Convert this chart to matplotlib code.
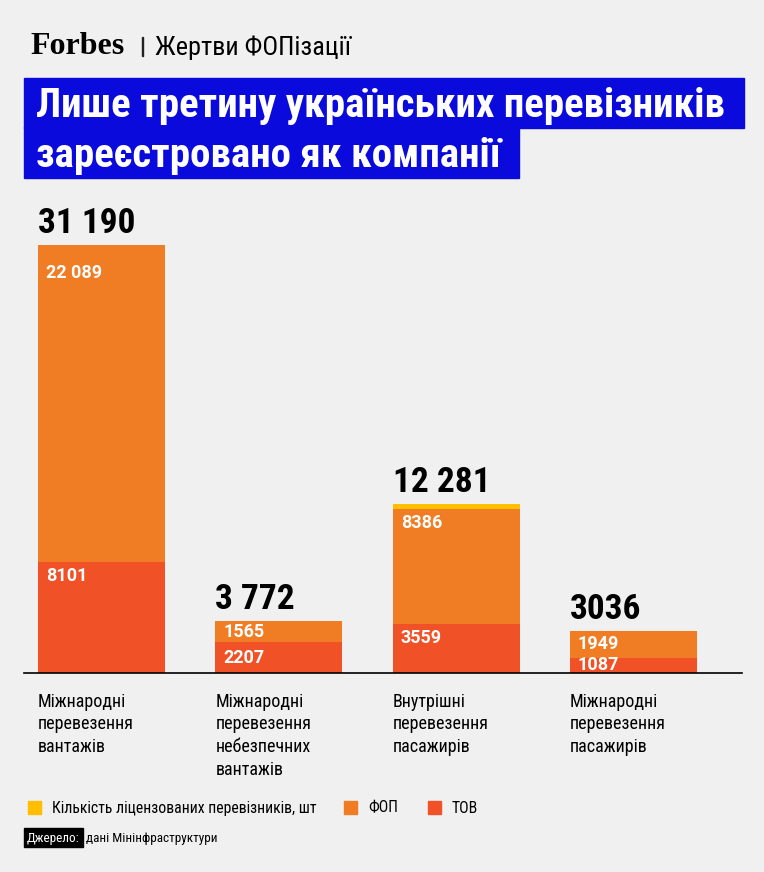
import numpy as np
import matplotlib
matplotlib.use('Agg')
import matplotlib.pyplot as plt
from matplotlib import font_manager
from matplotlib.patches import Rectangle

W, H = 764, 872

categories = [
    'Міжнародні\nперевезення\nвантажів',
    'Міжнародні\nперевезення\nнебезпечних\nвантажів',
    'Внутрішні\nперевезення\nпасажирів',
    'Міжнародні\nперевезення\nпасажирів',
]
totals = [31190, 3772, 12281, 3036]
total_labels = ['31 190', '3 772', '12 281', '3036']
fop = [22089, 1565, 8386, 1949]
fop_labels = ['22 089', '1565', '8386', '1949']
tov = [8101, 2207, 3559, 1087]
tov_labels = ['8101', '2207', '3559', '1087']
other = [0, 0, 336, 0]   # yellow strip visible on top of the bars

BG = '#f0f0f0'
BLUE = '#0b0add'
YELLOW = '#ffbf00'
ORANGE = '#f07d24'
RED = '#f05126'

names = {f.name for f in font_manager.fontManager.ttflist}
NARROW = 'Roboto Condensed' if 'Roboto Condensed' in names else 'Roboto'
nfont = dict(family=NARROW)

def fx(x):
    return x / W

def fy(y):
    return 1 - y / H

fig = plt.figure(figsize=(W / 100, H / 100), dpi=100, facecolor=BG)

# header
fig.text(fx(30), fy(54), 'Forbes', family='Liberation Serif', weight='bold',
         fontsize=23, color='black', va='baseline')
fig.add_artist(Rectangle((fx(141.5), fy(56)), 1.2 / W, 19 / H,
                         transform=fig.transFigure, color='#222222'))
fig.text(fx(155), fy(55), 'Жертви ФОПізації', fontsize=18.9, color='black',
         va='baseline', **nfont)

# title boxes
fig.add_artist(Rectangle((fx(24), fy(128)), 720 / W, 50 / H,
                         transform=fig.transFigure, color=BLUE))
fig.add_artist(Rectangle((fx(24), fy(178)), 495 / W, 50.5 / H,
                         transform=fig.transFigure, color=BLUE))
fig.text(fx(36), fy(117), 'Лише третину українських перевізників',
         fontsize=29.5, weight='bold', color='white', va='baseline', **nfont)
fig.text(fx(36), fy(167), 'зареєстровано як компанії',
         fontsize=29.5, weight='bold', color='white', va='baseline', **nfont)

# chart
ax = fig.add_axes([fx(24), 199.3 / H, 718 / W, 482.7 / H])
ax.set_facecolor(BG)
x = np.arange(len(categories))
bw = 0.716
fop_drawn = [t - o - l for t, o, l in zip(totals, other, tov)]
top_orange = [a + b for a, b in zip(tov, fop_drawn)]
ax.bar(x, tov, bw, color=RED)
ax.bar(x, fop_drawn, bw, bottom=tov, color=ORANGE)
ax.bar(x, other, bw, bottom=top_orange, color=YELLOW)
ax.set_xlim(-0.437, 3.612)
ax.set_ylim(0, 35237)
for s in ['left', 'right', 'top']:
    ax.spines[s].set_visible(False)
ax.spines['bottom'].set_color('black')
ax.spines['bottom'].set_linewidth(1.2)
ax.set_xticks([])
ax.set_yticks([])

per_px = 35237 / 482.7
PT = 72 / 100

def seg_label(text, left, bottom, drawn, value):
    if drawn / per_px > 36:
        ax.annotate(text, xy=(left, bottom + value), xytext=(8 * PT, -14 * PT),
                    textcoords='offset points', ha='left', va='center',
                    fontsize=13, weight='bold', color='white', family='Roboto')
    else:
        ax.annotate(text, xy=(left, bottom + drawn / 2), xytext=(8 * PT, 0),
                    textcoords='offset points', ha='left', va='center',
                    fontsize=13, weight='bold', color='white', family='Roboto')

for i in range(len(categories)):
    left = x[i] - bw / 2
    ax.annotate(total_labels[i], xy=(left, totals[i]), xytext=(0, 12 * PT),
                textcoords='offset points', ha='left', va='baseline',
                fontsize=25.5, weight='bold', color='black', **nfont)
    seg_label(tov_labels[i], left, 0, tov[i], tov[i])
    seg_label(fop_labels[i], left, tov[i], fop_drawn[i], fop[i])
    ax.annotate(categories[i], xy=(left, 0), xytext=(0, -20 * PT),
                textcoords='offset points', ha='left', va='top',
                fontsize=13, color='black', linespacing=1.33, **nfont)

# legend
leg = [(28, 52, YELLOW, 'Кількість ліцензованих перевізників, шт'),
       (344, 368, ORANGE, 'ФОП'),
       (428, 452, RED, 'ТОВ')]
for sx, tx, c, t in leg:
    fig.add_artist(Rectangle((fx(sx), fy(814)), 13 / W, 13 / H,
                             transform=fig.transFigure, color=c))
    fig.text(fx(tx), fy(812.5), t, fontsize=11.3, color='black', va='baseline', **nfont)

# source
fig.add_artist(Rectangle((fx(24), fy(847)), 59 / W, 19 / H,
                         transform=fig.transFigure, color='black'))
fig.text(fx(27), fy(842), 'Джерело:', fontsize=9.5, color='white', va='baseline', **nfont)
fig.text(fx(86), fy(842), 'дані Мінінфраструктури', fontsize=9.5, color='black',
         va='baseline', **nfont)

fig.savefig('out.png', dpi=100, facecolor=BG)
